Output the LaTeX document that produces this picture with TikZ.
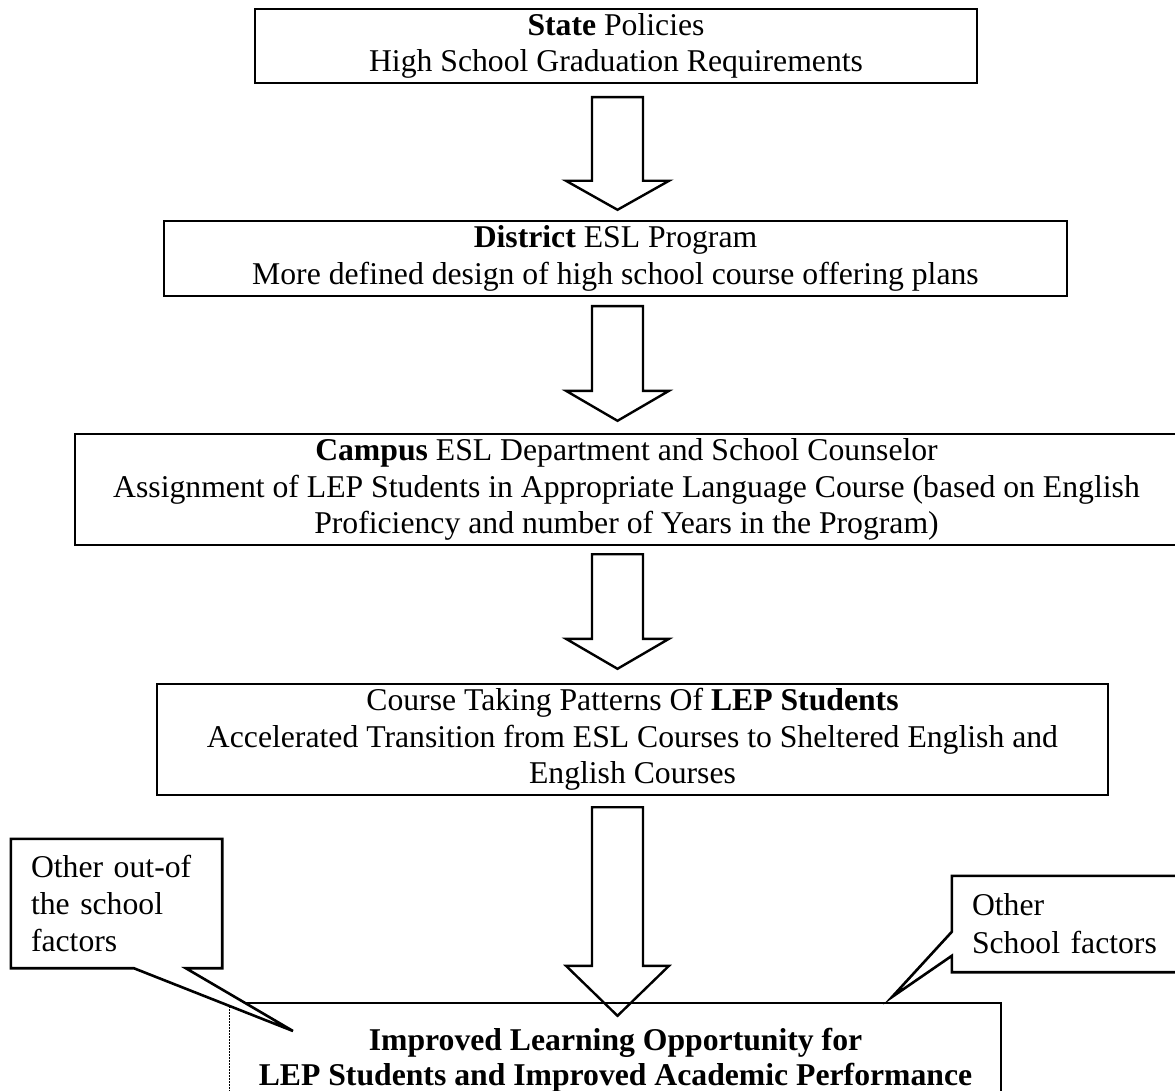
\documentclass[tikz,border=0pt]{standalone}
\usepackage{fontspec}
\setmainfont{Liberation Serif}
\usetikzlibrary{calc}
\newcommand{\blockarrow}[5]{% from, to, top gap, head height, tip gap
  \draw[blk] let \p1=(ax|-#1.south), \p2=(ax|-#2.north) in
    (\x1-25.5pt,\y1-#3pt) -- (\x1+25.5pt,\y1-#3pt) -- (\x1+25.5pt,\y2+#5pt+#4pt)
    -- (\x1+51.5pt,\y2+#5pt+#4pt) -- (\x1,\y2+#5pt) -- (\x1-51.5pt,\y2+#5pt+#4pt)
    -- (\x1-25.5pt,\y2+#5pt+#4pt) -- cycle;}
\begin{document}
\begin{tikzpicture}[x=1pt,y=1pt,
  box/.style={draw, line width=2.4pt, inner sep=0pt, align=center,
    font=\fontsize{31.7pt}{36.5pt}\selectfont},
  blk/.style={draw, line width=2.4pt, line join=miter},
  callout/.style={draw, line width=2.6pt, fill=white, line join=miter},
  ctext/.style={inner sep=0pt, align=left, font=\fontsize{31.7pt}{37pt}\selectfont},
  boxline/.style={line width=2.4pt},
  thinedge/.style={line width=1pt, dash pattern=on 2pt off 1pt}]
\useasboundingbox (0,0) rectangle (1175,-1091);
\clip (0,0) rectangle (1175,-1091);
\coordinate (ax) at (617.5,0);

\node[box, minimum width=722pt, minimum height=74pt] (b1) at (616,-46)
  {\textbf{State} Policies\\High School Graduation Requirements};
\node[box, minimum width=903pt, minimum height=75pt] (b2) at (615.5,-258.5)
  {\textbf{District} ESL Program\\More defined design of high school course offering plans};
\node[box, minimum width=1103pt, minimum height=111pt] (b3) at (626.5,-489.5)
  {\textbf{Campus} ESL Department and School Counselor\\Assignment of LEP Students in Appropriate Language Course (based on English\\Proficiency and number of Years in the Program)};
\node[box, minimum width=951pt, minimum height=111pt] (b4) at (632.5,-739.5)
  {Course Taking Patterns Of \textbf{LEP Students}\\Accelerated Transition from ESL Courses to Sheltered English and\\English Courses};
\node[box, draw=none, minimum width=769pt, minimum height=112pt, font=\bfseries\fontsize{31.7pt}{35.5pt}\selectfont] (b5) at (615.5,-1060)
  {Improved Learning Opportunity for\\LEP Students and Improved Academic Performance};
\draw[boxline] (b5.north west) -- (b5.north east) -- (b5.south east);
\draw[thinedge] (b5.north west) -- (b5.south west);

\blockarrow{b1}{b2}{13}{29}{10}
\blockarrow{b2}{b3}{9}{30}{12}
\blockarrow{b3}{b4}{8}{30}{14}
\blockarrow{b4}{b5}{11}{50}{-13}

% left callout
\node[inner sep=0pt, minimum width=211pt, minimum height=129pt] (c1) at (116.5,-903.5) {};
\coordinate (c1tip) at (293,-1031);
\draw[callout] (c1.north west) -- (c1.north east) -- (c1.south east)
  -- ($(c1.south west)+(175,0)$) -- (c1tip) -- ($(c1.south west)+(123,0)$)
  -- (c1.south west) -- cycle;
\node[ctext, text width=171pt] (c1t) at (c1.center) {Other out-of\\the school\\factors};

% right callout
\node[inner sep=0pt, minimum width=238pt, minimum height=96pt] (c2) at (1071,-924) {};
\coordinate (c2tip) at (892,-997);
\draw[callout] (c2.south east) -- (c2.south west) -- ($(c2.north west)+(0,-80)$)
  -- (c2tip) -- ($(c2.north west)+(0,-56)$) -- (c2.north west) -- (c2.north east) -- cycle;
\node[ctext, text width=198pt, font=\fontsize{31.7pt}{38pt}\selectfont] (c2t) at (c2.center) {Other\\School factors};
\end{tikzpicture}
\end{document}
